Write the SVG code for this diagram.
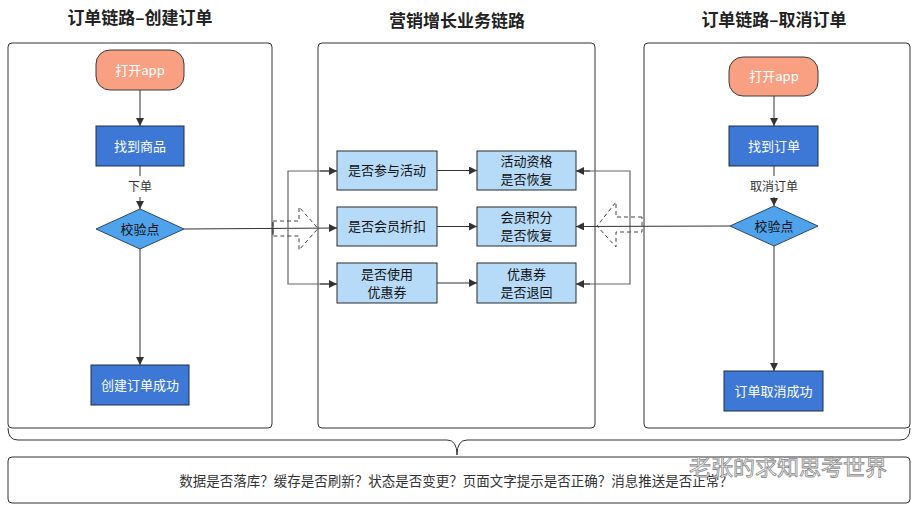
<svg xmlns="http://www.w3.org/2000/svg" width="918" height="508" viewBox="0 0 918 508">
<defs>
<marker id="ah" viewBox="0 0 10 10" refX="10" refY="5" markerWidth="8" markerHeight="8" markerUnits="userSpaceOnUse" orient="auto">
<path d="M0,0 L10,5 L0,10 z" fill="#333"/>
</marker>
</defs>
<style>
text{font-family:"Noto Sans CJK SC","Liberation Sans",sans-serif;}
.title{font-size:17px;font-weight:bold;fill:#222;text-anchor:middle;}
.panel{fill:#fff;stroke:#333;stroke-width:1;}
.start{fill:#f9a083;stroke:#3a3a3a;stroke-width:1;}
.proc{fill:#3d78d6;stroke:#1e2f4a;stroke-width:1;}
.dia{fill:#4ea3ec;stroke:#2a4a6a;stroke-width:1;}
.mid{fill:#b6dbf8;stroke:#2a2a2a;stroke-width:1;}
.wt{font-size:13px;fill:#fff;text-anchor:middle;}
.dt{font-size:13px;fill:#111;text-anchor:middle;}
.lbl{font-size:12px;fill:#333;text-anchor:middle;}
.ln{fill:none;stroke:#333;stroke-width:1;}
.gl{fill:none;stroke:#666;stroke-width:1.2;}
.dash{fill:none;stroke:#444;stroke-width:1;stroke-dasharray:4,3;}
</style>
<text class="title" x="140" y="24">订单链路–创建订单</text>
<text class="title" x="457" y="27">营销增长业务链路</text>
<text class="title" x="774" y="26">订单链路–取消订单</text>

<rect id="panel-left" class="panel" x="8" y="43" width="264" height="385" rx="4"/>
<rect id="panel-mid" class="panel" x="318" y="43" width="277" height="385" rx="4"/>
<rect id="panel-right" class="panel" x="644" y="43" width="266" height="385" rx="4"/>

<g id="connectors">
<line class="ln" x1="140" y1="90" x2="140" y2="126" marker-end="url(#ah)"/>
<line class="ln" x1="140" y1="166" x2="140" y2="176"/>
<line class="ln" x1="140" y1="197" x2="140" y2="209" marker-end="url(#ah)"/>
<line class="ln" x1="140" y1="249" x2="140" y2="365" marker-end="url(#ah)"/>
<line class="ln" x1="184" y1="229" x2="337" y2="228" marker-end="url(#ah)"/>
<polyline class="gl" points="335,171 288,171 288,284 335,284"/>
<line class="ln" x1="320" y1="171" x2="337" y2="171" marker-end="url(#ah)"/>
<line class="ln" x1="320" y1="284" x2="337" y2="284" marker-end="url(#ah)"/>
<line class="ln" x1="437" y1="170.5" x2="477" y2="170.5" marker-end="url(#ah)"/>
<line class="ln" x1="437" y1="226.5" x2="477" y2="226.5" marker-end="url(#ah)"/>
<line class="ln" x1="437" y1="283" x2="477" y2="283" marker-end="url(#ah)"/>
<polyline class="gl" points="578,171 630,171 630,284 578,284"/>
<line class="ln" x1="590" y1="171" x2="576" y2="171" marker-end="url(#ah)"/>
<line class="ln" x1="590" y1="284" x2="576" y2="284" marker-end="url(#ah)"/>
<line class="ln" x1="730" y1="226" x2="576" y2="226.5" marker-end="url(#ah)"/>
<line class="ln" x1="774" y1="96" x2="774" y2="126" marker-end="url(#ah)"/>
<line class="ln" x1="774" y1="166" x2="774" y2="176"/>
<line class="ln" x1="774" y1="197" x2="774" y2="206" marker-end="url(#ah)"/>
<line class="ln" x1="774" y1="246" x2="774" y2="371" marker-end="url(#ah)"/>
<polygon class="dash" points="273,221 299,221 299,207 318,228.5 299,250 299,236 273,236"/>
<polygon class="dash" points="642,217 616,217 616,202 597,226 616,247 616,232 642,232"/>
<line class="ln" x1="273" y1="222" x2="273" y2="235" stroke-width="2"/>
<path class="ln" d="M8,428 Q8,440 18,440 L447,440 Q457,440 457,455 Q457,440 467,440 L900,440 Q910,440 910,428"/>
</g>

<g id="l-start"><rect class="start" x="96" y="50" width="88" height="40" rx="14"/><text class="wt" x="140" y="75">打开app</text></g>
<g id="l-find"><rect class="proc" x="96" y="126" width="88" height="40"/><text class="wt" x="140" y="151">找到商品</text></g>
<g id="l-label"><text class="lbl" x="140" y="191">下单</text></g>
<g id="l-check"><polygon class="dia" points="96,229 140,209 184,229 140,249"/><text class="dt" x="140" y="234">校验点</text></g>
<g id="l-done"><rect class="proc" x="91" y="365" width="98" height="40"/><text class="wt" x="140" y="390">创建订单成功</text></g>

<g id="m-act"><rect class="mid" x="337" y="151" width="100" height="39"/><text class="dt" x="387" y="175">是否参与活动</text></g>
<g id="m-vip"><rect class="mid" x="337" y="207" width="100" height="39"/><text class="dt" x="387" y="231">是否会员折扣</text></g>
<g id="m-coupon"><rect class="mid" x="337" y="263" width="100" height="40"/><text class="dt" x="387" y="279">是否使用</text><text class="dt" x="387" y="297">优惠券</text></g>
<g id="m-act2"><rect class="mid" x="477" y="151" width="99" height="39"/><text class="dt" x="526.5" y="166">活动资格</text><text class="dt" x="526.5" y="184">是否恢复</text></g>
<g id="m-vip2"><rect class="mid" x="477" y="207" width="99" height="39"/><text class="dt" x="526.5" y="222">会员积分</text><text class="dt" x="526.5" y="240">是否恢复</text></g>
<g id="m-coupon2"><rect class="mid" x="477" y="263" width="99" height="40"/><text class="dt" x="526.5" y="279">优惠券</text><text class="dt" x="526.5" y="297">是否退回</text></g>

<g id="r-start"><rect class="start" x="729" y="57" width="89" height="39" rx="14"/><text class="wt" x="774" y="81">打开app</text></g>
<g id="r-find"><rect class="proc" x="729" y="126" width="89" height="40"/><text class="wt" x="774" y="151">找到订单</text></g>
<g id="r-label"><text class="lbl" x="774" y="191">取消订单</text></g>
<g id="r-check"><polygon class="dia" points="730,226 774,206 818,226 774,246"/><text class="dt" x="774" y="231">校验点</text></g>
<g id="r-done"><rect class="proc" x="724" y="371" width="99" height="40"/><text class="wt" x="773.5" y="396">订单取消成功</text></g>

<g id="summary"><rect class="panel" x="8" y="457" width="902" height="46" rx="4"/><text x="456" y="486" style="font-size:13.5px;fill:#333;text-anchor:middle;">数据是否落库？缓存是否刷新？状态是否变更？页面文字提示是否正确？消息推送是否正常？</text></g>

<text x="689" y="475" style="font-size:22px;fill:#fff;fill-opacity:0.85;stroke:#888;stroke-width:0.8;">老张的求知思考世界</text>
</svg>
